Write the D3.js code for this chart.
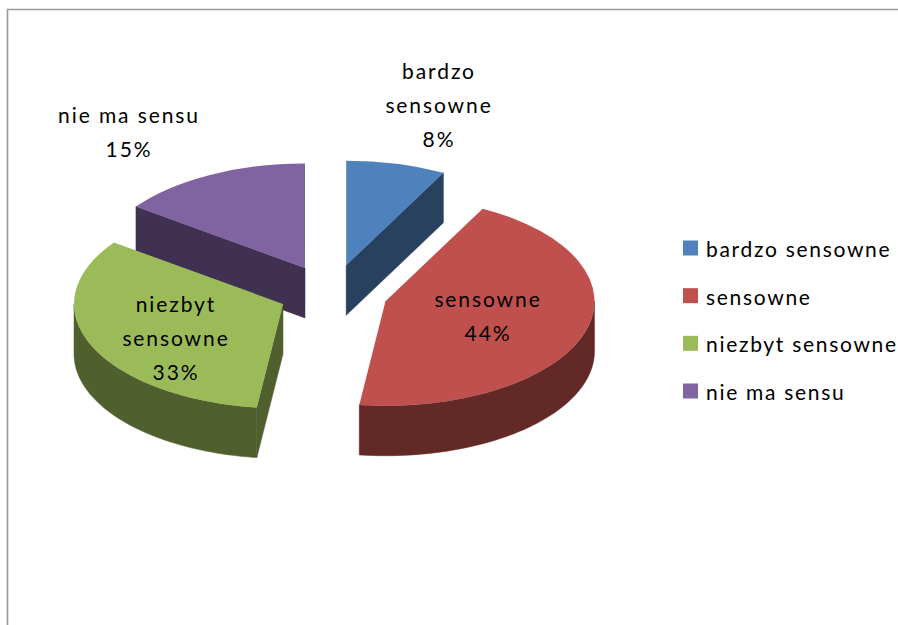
<!DOCTYPE html>
<html>
<head>
<meta charset="utf-8">
<script src="https://cdn.jsdelivr.net/npm/d3@7/dist/d3.min.js"></script>
<style>
html,body{margin:0;padding:0;background:#fff;overflow:hidden}
svg{display:block}
text{font-family:Lato,"Open Sans",sans-serif;fill:#000}
</style>
</head>
<body>
<svg id="c" width="898" height="625"></svg>
<script>
// --- data ---
const categories = ["bardzo sensowne", "sensowne", "niezbyt sensowne", "nie ma sensu"];
const values = [7.7, 44.3, 33, 15];
const labelLines = [["bardzo", "sensowne", "8%"], ["sensowne", "44%"], ["niezbyt", "sensowne", "33%"], ["nie ma sensu", "15%"]];
const topColors = ["#4F81BD", "#C0504D", "#9BBB59", "#8064A2"];
const sideColors = ["#28415F", "#622926", "#505F2E", "#403152"];

// --- layout ---
const svg = d3.select("#c");
const R = 209, squash = 0.5, depth = 50, explode = 55;
const cx = 333, cy = 293;
const nudges = [[0, -1], [0, 0], [0.5, 0], [-3, -0.5]];
const labelAnchors = [[439, 79], [488, 307], [176, 312], [129, 123]];
const labelStep = 34;

svg.append("path").attr("d", "M7.5,625V9.5H898").attr("fill", "none").attr("stroke", "#9a9a9a").attr("stroke-width", 1.6);

const slices = d3.pie().sort(null).value(d => d)(values);
const arcGen = d3.arc().innerRadius(0).outerRadius(R);
const line = d3.line();
const project = (p, dz = 0) => [p[0], p[1] * squash + dz];

function centre(s) {
  const mid = (s.startAngle + s.endAngle) / 2;
  return project(d3.pointRadial(mid, explode));
}
function outerWall(a0, a1) {
  const ts = d3.range(0, 61).map(i => a0 + (a1 - a0) * i / 60);
  const upper = ts.map(a => project(d3.pointRadial(a, R)));
  const lower = ts.slice().reverse().map(a => project(d3.pointRadial(a, R), depth));
  return line(upper.concat(lower)) + "Z";
}
function radialWall(a) {
  const e = project(d3.pointRadial(a, R));
  return line([[0, 0], e, [e[0], e[1] + depth], [0, depth]]) + "Z";
}

// paint back slices first, then the front ones
[0, 3, 2, 1].forEach(i => {
  const s = slices[i], c = centre(s), n = nudges[i];
  const g = svg.append("g").attr("transform", `translate(${cx + c[0] + n[0]},${cy + c[1] + n[1]})`);
  const col = sideColors[i];
  const wall = d => g.append("path").attr("d", d).attr("fill", col).attr("stroke", col).attr("stroke-width", .5);
  // radial walls that face the viewer
  if (Math.sin(s.startAngle) < -1e-6) wall(radialWall(s.startAngle));
  if (Math.sin(s.endAngle) > 1e-6) wall(radialWall(s.endAngle));
  // curved wall: only the part on the near side of the ellipse
  const a0 = Math.max(s.startAngle, Math.PI / 2), a1 = Math.min(s.endAngle, Math.PI * 1.5);
  if (a1 > a0) wall(outerWall(a0, a1));
  g.append("path").attr("d", arcGen(s)).attr("transform", `scale(1,${squash})`).attr("fill", topColors[i]);
});

// data labels
labelLines.forEach((lines, i) => {
  lines.forEach((t, j) => {
    svg.append("text").attr("x", labelAnchors[i][0]).attr("y", labelAnchors[i][1] + j * labelStep)
      .attr("text-anchor", "middle").attr("font-size", 21).attr("letter-spacing", 1.9).text(t);
  });
});

// legend
const yLegend = d3.scalePoint().domain(categories).range([249, 392]);
categories.forEach((c, i) => {
  const y = yLegend(c);
  svg.append("rect").attr("x", 683).attr("y", y - 8.5).attr("width", 15).attr("height", 15).attr("fill", topColors[i]);
  svg.append("text").attr("x", 706).attr("y", y + 8).attr("font-size", 21).attr("letter-spacing", 1.7).text(c);
});
</script>
</body>
</html>
